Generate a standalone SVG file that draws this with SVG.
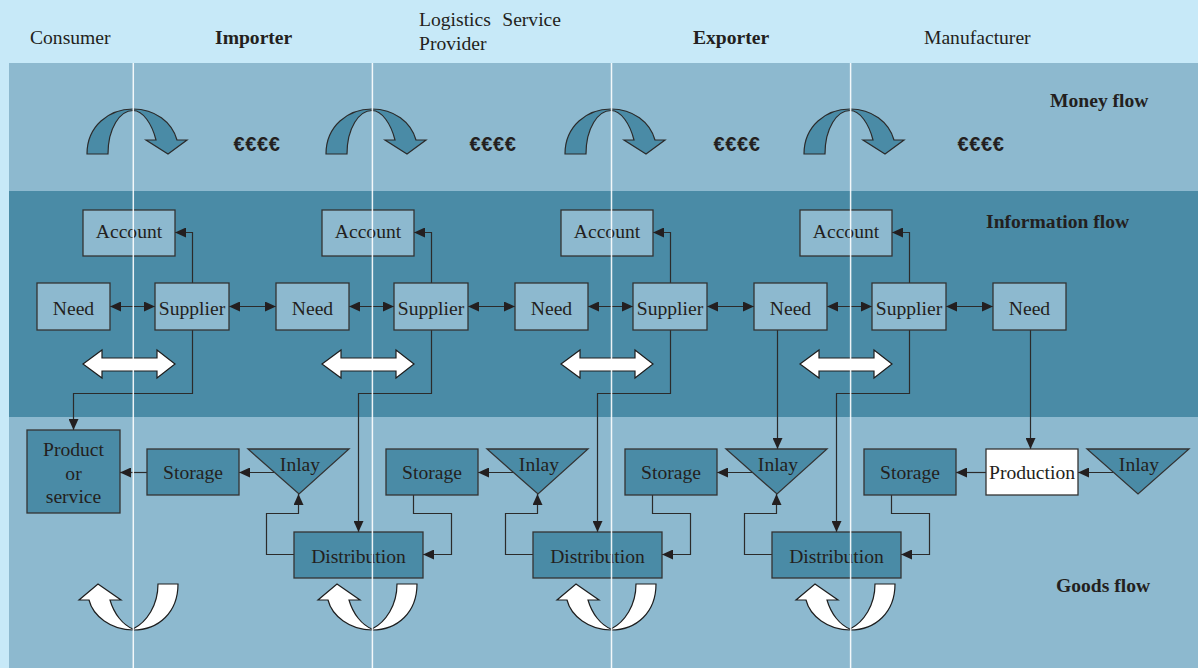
<svg xmlns="http://www.w3.org/2000/svg" width="1198" height="668" viewBox="0 0 1198 668">
<style>
text{font-family:"Liberation Serif","Times New Roman",serif;font-size:19.6px;fill:#231f20}
.b{font-weight:bold}
.m{text-anchor:middle}
.eur{font-family:"Liberation Sans",Arial,sans-serif;font-weight:bold;font-size:20px;letter-spacing:0.6px;text-anchor:middle}
.ni{fill:#8db9cf;stroke:#333;stroke-width:1.3}
.ng{fill:#4a8ba6;stroke:#333;stroke-width:1.3}
.nw{fill:#ffffff;stroke:#333;stroke-width:1.3}
.c{fill:none;stroke:#2b2b2b;stroke-width:1.2}
.cd{fill:none;stroke:#2b2b2b;stroke-width:1.2;marker-start:url(#ah);marker-end:url(#ah)}
.ce{fill:none;stroke:#2b2b2b;stroke-width:1.2;marker-end:url(#ah)}
.ma{fill:#4a8ba6;stroke:#2b2b2b;stroke-width:1.2}
.wa{fill:#ffffff;stroke:#1e1e1e;stroke-width:1.2}
.vl{stroke:#ffffff;stroke-width:1.5;opacity:0.9}
</style>
<defs>
<marker id="ah" viewBox="0 0 11 10" refX="11" refY="5" markerWidth="11" markerHeight="10" markerUnits="userSpaceOnUse" orient="auto-start-reverse">
<path d="M0,0 L11,5 L0,10 Z" fill="#231f20"/>
</marker>
<path id="money" d="M-46,154 C-46,126 -24,109 0,109 C22,109 39,122 44,140 L54,140 L35,154 L13,140 L23,140 C19,124 10,110.5 0,110.5 C-13,110.5 -25,128 -25,154 Z"/>
<path id="goods" d="M25,584 L45,584 C45,612 26,630 0,630 C-22,630 -40,616 -44,600 L-54,600 L-35,584 L-12,600 L-23,600 C-19,614 -10,625 0,629 C14,622 25,605 25,584 Z"/>
<path id="dbl" d="M0,364 L19,350 L19,358 L74,358 L74,350 L92,364 L74,378 L74,371 L19,371 L19,378 Z"/>
</defs>

<g id="background">
<rect x="0" y="0" width="1198" height="668" fill="#c7e9f8"/>
<rect x="9" y="63" width="1189" height="128" fill="#8db9cf"/>
<rect x="9" y="191" width="1189" height="226" fill="#4a8ba6"/>
<rect x="9" y="417" width="1189" height="251" fill="#8db9cf"/>
</g>

<g id="headers">
<text x="30" y="44">Consumer</text>
<text x="215" y="44" class="b">Importer</text>
<text x="419" y="26">Logistics</text>
<text x="561" y="26" text-anchor="end">Service</text>
<text x="419" y="50">Provider</text>
<text x="693" y="44" class="b">Exporter</text>
<text x="924" y="44">Manufacturer</text>
<text x="1050" y="107" class="b">Money flow</text>
<text x="986" y="228" class="b">Information flow</text>
<text x="1056" y="592" class="b">Goods flow</text>
</g>

<g id="money-flow">
<use href="#money" class="ma" transform="translate(133,0)"/>
<use href="#money" class="ma" transform="translate(372,0)"/>
<use href="#money" class="ma" transform="translate(611,0)"/>
<use href="#money" class="ma" transform="translate(850,0)"/>
<text class="eur" x="257" y="151">€€€€</text>
<text class="eur" x="493" y="151">€€€€</text>
<text class="eur" x="737" y="151">€€€€</text>
<text class="eur" x="981" y="151">€€€€</text>
</g>

<g id="exchange-arrows">
<use href="#dbl" class="wa" transform="translate(83,0)"/>
<use href="#dbl" class="wa" transform="translate(322,0)"/>
<use href="#dbl" class="wa" transform="translate(561,0)"/>
<use href="#dbl" class="wa" transform="translate(800,0)"/>
<use href="#goods" class="wa" transform="translate(133,0)"/>
<use href="#goods" class="wa" transform="translate(372,0)"/>
<use href="#goods" class="wa" transform="translate(611,0)"/>
<use href="#goods" class="wa" transform="translate(850,0)"/>
</g>

<g id="connectors">
<path class="cd" d="M110,306.5 H155"/>
<path class="cd" d="M229,306.5 H276"/>
<path class="cd" d="M349,306.5 H394"/>
<path class="cd" d="M468,306.5 H515"/>
<path class="cd" d="M588,306.5 H633"/>
<path class="cd" d="M707,306.5 H754"/>
<path class="cd" d="M827,306.5 H872"/>
<path class="cd" d="M946,306.5 H993"/>
<path class="ce" d="M192.5,283 V232.5 H175"/>
<path class="ce" d="M431.5,283 V232.5 H414"/>
<path class="ce" d="M670.5,283 V232.5 H653"/>
<path class="ce" d="M909.5,283 V232.5 H892"/>
<path class="ce" d="M192.5,330 V393.5 H73.5 V430"/>
<path class="ce" d="M431.5,330 V393.5 H358.5 V532"/>
<path class="ce" d="M670.5,330 V393.5 H597.5 V532"/>
<path class="ce" d="M909.5,330 V393.5 H836.5 V532"/>
<path class="ce" d="M777.5,330 V449"/>
<path class="ce" d="M1030.5,330 V449"/>
<path class="ce" d="M147,472.5 H120"/>
<path class="ce" d="M274,472.5 H239"/>
<path class="ce" d="M513,472.5 H478"/>
<path class="ce" d="M752,472.5 H717"/>
<path class="ce" d="M986,472.5 H956"/>
<path class="ce" d="M1113,472.5 H1078"/>
<path class="ce" d="M294,554.5 H266.5 V513.5 H298.5 V494"/>
<path class="ce" d="M533,554.5 H505.5 V513.5 H537.5 V494"/>
<path class="ce" d="M772,554.5 H744.5 V513.5 H776.5 V494"/>
<path class="ce" d="M413.5,495 V513.5 H451.5 V554.5 H423"/>
<path class="ce" d="M652.5,495 V513.5 H690.5 V554.5 H662"/>
<path class="ce" d="M891.5,495 V513.5 H929.5 V554.5 H901"/>
</g>

<g id="account-1"><rect class="ni" x="83" y="210" width="92" height="46"/><text class="m" x="129" y="238">Account</text></g>
<g id="account-2"><rect class="ni" x="322" y="210" width="92" height="46"/><text class="m" x="368" y="238">Account</text></g>
<g id="account-3"><rect class="ni" x="561" y="210" width="92" height="46"/><text class="m" x="607" y="238">Account</text></g>
<g id="account-4"><rect class="ni" x="800" y="210" width="92" height="46"/><text class="m" x="846" y="238">Account</text></g>

<g id="need-1"><rect class="ni" x="37" y="283" width="73" height="47"/><text class="m" x="73.5" y="315">Need</text></g>
<g id="need-2"><rect class="ni" x="276" y="283" width="73" height="47"/><text class="m" x="312.5" y="315">Need</text></g>
<g id="need-3"><rect class="ni" x="515" y="283" width="73" height="47"/><text class="m" x="551.5" y="315">Need</text></g>
<g id="need-4"><rect class="ni" x="754" y="283" width="73" height="47"/><text class="m" x="790.5" y="315">Need</text></g>
<g id="need-5"><rect class="ni" x="993" y="283" width="73" height="47"/><text class="m" x="1029.5" y="315">Need</text></g>

<g id="supplier-1"><rect class="ni" x="155" y="283" width="74" height="47"/><text class="m" x="192" y="315">Supplier</text></g>
<g id="supplier-2"><rect class="ni" x="394" y="283" width="74" height="47"/><text class="m" x="431" y="315">Supplier</text></g>
<g id="supplier-3"><rect class="ni" x="633" y="283" width="74" height="47"/><text class="m" x="670" y="315">Supplier</text></g>
<g id="supplier-4"><rect class="ni" x="872" y="283" width="74" height="47"/><text class="m" x="909" y="315">Supplier</text></g>

<g id="product"><rect class="ng" x="27" y="430" width="93" height="83"/><text class="m" x="73.5" y="456">Product</text><text class="m" x="73.5" y="480">or</text><text class="m" x="73.5" y="503">service</text></g>

<g id="storage-1"><rect class="ng" x="147" y="449" width="92" height="46"/><text class="m" x="193" y="479">Storage</text></g>
<g id="storage-2"><rect class="ng" x="386" y="449" width="92" height="46"/><text class="m" x="432" y="479">Storage</text></g>
<g id="storage-3"><rect class="ng" x="625" y="449" width="92" height="46"/><text class="m" x="671" y="479">Storage</text></g>
<g id="storage-4"><rect class="ng" x="864" y="449" width="92" height="46"/><text class="m" x="910" y="479">Storage</text></g>

<g id="inlay-1"><polygon class="ng" points="248,449 349,449 299,494"/><text class="m" x="300" y="471">Inlay</text></g>
<g id="inlay-2"><polygon class="ng" points="487,449 588,449 538,494"/><text class="m" x="539" y="471">Inlay</text></g>
<g id="inlay-3"><polygon class="ng" points="726,449 827,449 777,494"/><text class="m" x="778" y="471">Inlay</text></g>
<g id="inlay-4"><polygon class="ng" points="1087,449 1189,449 1138,494"/><text class="m" x="1139" y="471">Inlay</text></g>

<g id="production"><rect class="nw" x="986" y="449" width="92" height="46"/><text class="m" x="1032" y="479">Production</text></g>

<g id="distribution-1"><rect class="ng" x="294" y="532" width="129" height="46"/><text class="m" x="358.5" y="563">Distribution</text></g>
<g id="distribution-2"><rect class="ng" x="533" y="532" width="129" height="46"/><text class="m" x="597.5" y="563">Distribution</text></g>
<g id="distribution-3"><rect class="ng" x="772" y="532" width="129" height="46"/><text class="m" x="836.5" y="563">Distribution</text></g>

<g id="dividers">
<line class="vl" x1="133.3" y1="63" x2="133.3" y2="668"/>
<line class="vl" x1="372.4" y1="63" x2="372.4" y2="668"/>
<line class="vl" x1="611.5" y1="63" x2="611.5" y2="668"/>
<line class="vl" x1="850.6" y1="63" x2="850.6" y2="668"/>
</g>
</svg>
